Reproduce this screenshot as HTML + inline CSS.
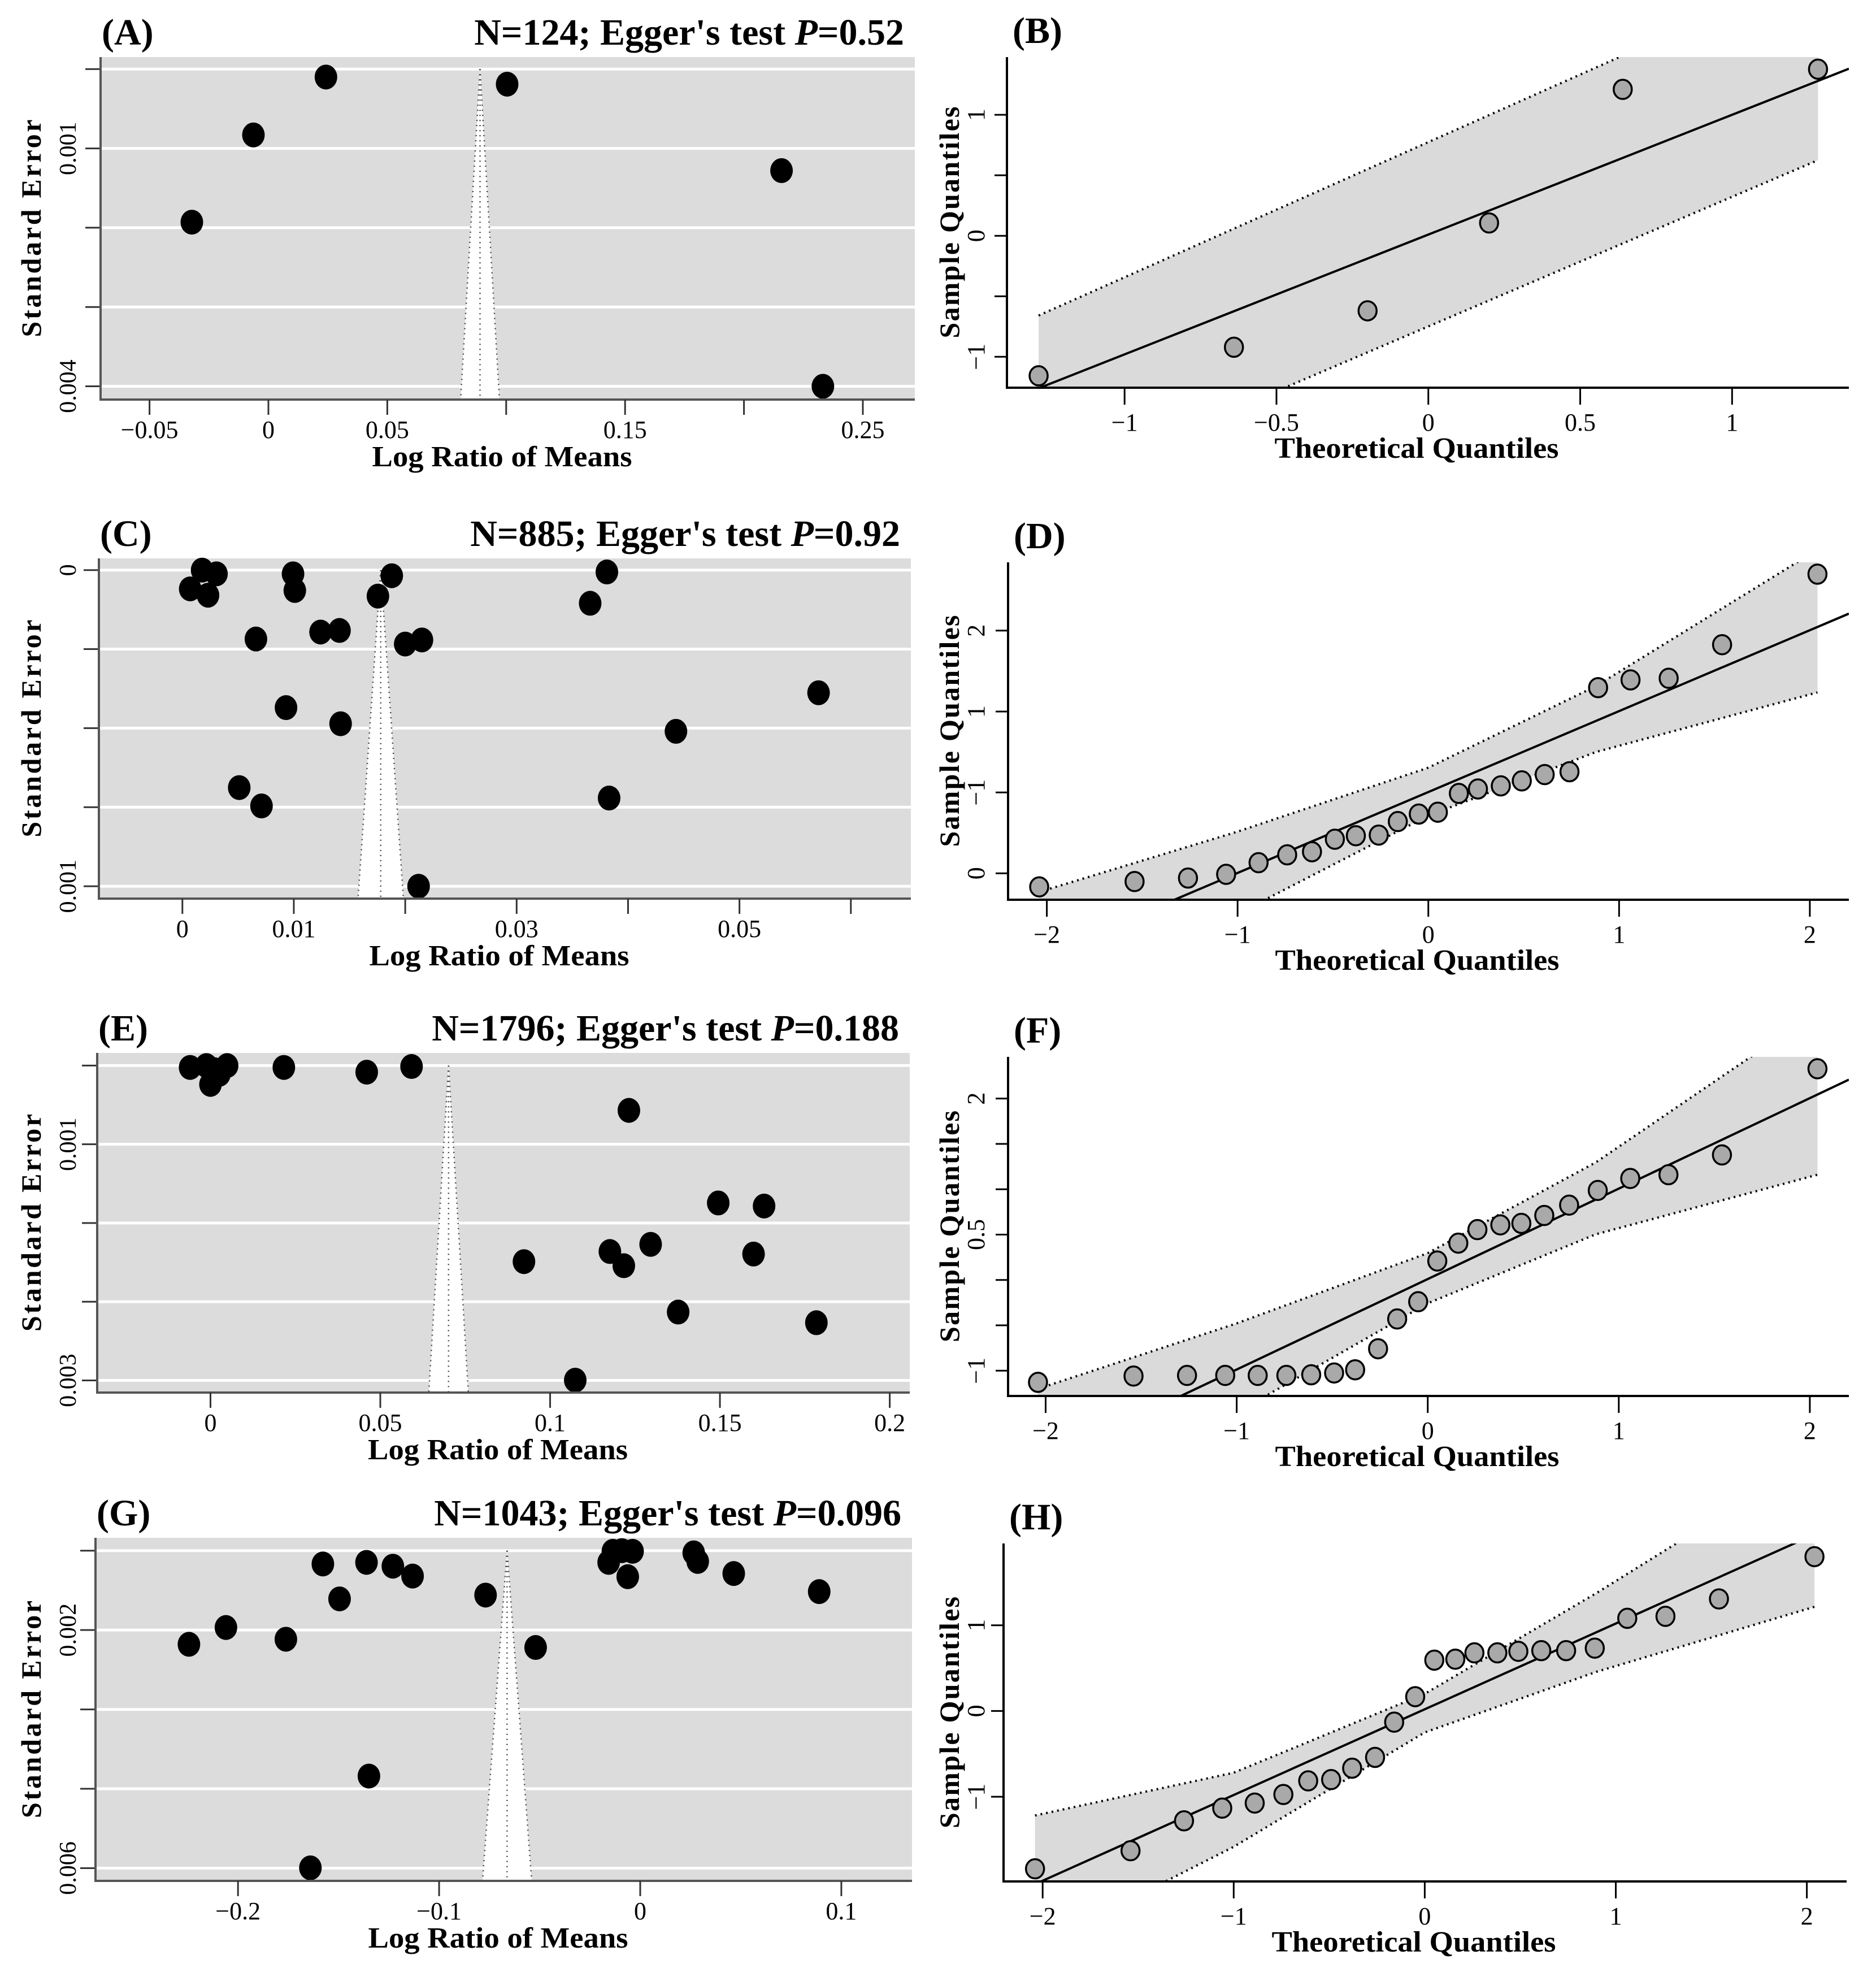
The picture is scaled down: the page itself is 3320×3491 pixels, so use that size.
<!DOCTYPE html>
<html><head><meta charset="utf-8"><style>
html,body{margin:0;padding:0;background:#fff;}
svg{display:block;font-family:"Liberation Serif",serif;}
</style></head><body>
<svg id="fig" xmlns="http://www.w3.org/2000/svg" width="3320" height="3491" viewBox="0 0 3320 3491"></svg>
<script>
// ---------- Funnel plot data (x = log ratio of means, y = standard error) ----------
const aLRM = [0.0242,-0.0063,-0.0322,0.1004,0.2158,0.2332];
const aSE  = [0.0001,0.00083,0.00193,0.00019,0.00128,0.004];
const cLRM = [0.00177,0.00306,0.0007,0.0023,0.00993,0.01009,0.01879,0.01755,0.0381,0.0366,0.0066,0.0124,0.0141,0.02,0.0215,0.0093,0.0142,0.0571,0.0443,0.0051,0.0071,0.0383,0.0212];
const cSE  = [0,0.0000119,0.0000595,0.0000794,0.0000119,0.0000645,0.0000179,0.0000823,0.000006,0.000105,0.000218,0.000196,0.000191,0.000234,0.000221,0.000435,0.000486,0.000388,0.00051,0.000688,0.000746,0.000721,0.001];
const eLRM = [-0.006,-0.0012,0.001,0.0049,0.0026,0.0,0.0216,0.046,0.0592,0.1232,0.1495,0.163,0.1296,0.1176,0.1217,0.0923,0.1599,0.1377,0.1784,0.1074];
const eSE  = [0.000017,0,0.000037,0,0.00008,0.000171,0.000017,0.00006,0.0000085,0.000407,0.001248,0.001276,0.001624,0.001689,0.001818,0.001781,0.001712,0.002239,0.002336,0.002858];
const gLRM = [-0.1578,-0.1361,-0.123,-0.1132,-0.1495,-0.0769,-0.206,-0.2244,-0.1762,-0.052,-0.1349,-0.164,-0.0136,-0.0091,-0.0038,-0.0157,-0.0062,0.0266,0.0286,0.0465,0.089];
const gSE  = [0.000252,0.000222,0.000294,0.00048,0.000912,0.00084,0.001452,0.00177,0.001674,0.00183,0.00426,0.005994,0.000012,0,0.000012,0.000222,0.000492,0.000042,0.000204,0.000432,0.000774];
const funnelCenters = [0.089,0.0178,0.0701,-0.0662];
const funnelTitles = ["N=124; Egger's test ","N=885; Egger's test ","N=1796; Egger's test ","N=1043; Egger's test "];
const funnelP = ["=0.52","=0.92","=0.188","=0.096"];
const aXTicks=[-0.05,0,0.05,0.1,0.15,0.2,0.25], aXLabels=["\u22120.05","0","0.05","","0.15","","0.25"];
const cXTicks=[0,0.01,0.02,0.03,0.04,0.05,0.06], cXLabels=["0","0.01","","0.03","","0.05",""];
const eXTicks=[0,0.05,0.1,0.15,0.2], eXLabels=["0","0.05","0.1","0.15","0.2"];
const gXTicks=[-0.2,-0.1,0,0.1], gXLabels=["\u22120.2","\u22120.1","0","0.1"];
const aYLabels=["","0.001","","","0.004"];
const cYLabels=["0","","","","0.001"];
const eYLabels=["","0.001","","","0.003"];
const gYLabels=["","0.002","","","0.006"];
const seMax=[0.004,0.001,0.00286,0.006];

// ---------- QQ plot data ----------
const bTheo=[-1.283,-0.64,-0.2,0.2,0.64,1.283];
const bSample=[-1.157,-0.921,-0.62,0.106,1.21,1.377];
const bBandX=[-1.283,1.283], bBandUp=[-0.659,2.207], bBandLo=[-2.123,0.625];
const theo24=[-2.04,-1.54,-1.26,-1.06,-0.89,-0.74,-0.61,-0.49,-0.38,-0.26,-0.16,-0.05,0.05,0.16,0.26,0.38,0.49,0.61,0.74,0.89,1.06,1.26,1.54,2.04];
const dSample=[-0.167,-0.101,-0.058,-0.012,0.132,0.229,0.267,0.422,0.465,0.473,0.64,0.733,0.756,0.988,1.043,1.081,1.143,1.221,1.256,2.295,2.391,2.411,2.826,3.698];
const dBandX=[-2.04,-1.005,0,0.879,2.04], dBandUp=[-0.23,0.512,1.306,2.314,4.0], dBandLo=[-1.97,-0.506,0.713,1.5,2.236];
const fSample=[-1.128,-1.059,-1.052,-1.052,-1.052,-1.052,-1.045,-1.025,-0.99,-0.758,-0.43,-0.24,0.209,0.406,0.555,0.607,0.624,0.711,0.825,0.987,1.119,1.16,1.378,2.328];
const fBandX=[-2.04,-1.005,0,0.879,2.04], fBandUp=[-1.2,-0.482,0.296,1.295,2.96], fBandLo=[-2.73,-1.467,-0.257,0.503,1.16];
const hSample=[-1.841,-1.63,-1.281,-1.133,-1.074,-0.974,-0.815,-0.8,-0.667,-0.541,-0.13,0.167,0.593,0.604,0.678,0.678,0.696,0.704,0.704,0.733,1.081,1.104,1.307,1.8];
const hBandX=[-2.04,-1.0,0,0.9,2.04], hBandUp=[-1.219,-0.72,0.2,1.377,2.956], hBandLo=[-2.76,-1.584,-0.25,0.458,1.215];
const qqIntercepts=[0.01,1.005,0.01,0.02], qqSlopes=[0.99,1.0,0.997,1.0];
const bXTicks=[-1,-0.5,0,0.5,1], bXLabels=["\u22121","\u22120.5","0","0.5","1"];
const dXTicks=[-2,-1,0,1,2], dXLabels=["\u22122","\u22121","0","1","2"];
const bYTicks=[-1,-0.5,0,0.5,1], bYLabels=["\u22121","","0","","1"];
const dYTicks=[0,1,2,3], dYLabels=["0","\u22121","1","2"];
const fYTicks=[-1,-0.5,0,0.5,1,1.5,2], fYLabels=["\u22121","","","0.5","","","2"];
const hYTicks=[-1,0,1], hYLabels=["\u22121","0","1"];

const NS="http://www.w3.org/2000/svg";
const svg=document.getElementById('fig');
function mk(parent,tag,attrs){const e=document.createElementNS(NS,tag);for(const k in attrs)e.setAttribute(k,attrs[k]);parent.appendChild(e);return e;}
function lin(v0,p0,v1,p1){return v=>p0+(v-v0)*(p1-p0)/(v1-v0);}
function inv(v0,p0,v1,p1){return p=>v0+(p-p0)*(v1-v0)/(p1-p0);}

const funnelLayouts=[
 {id:'a',letter:'(A)',box:{l:178,r:1619,t:101,b:707},xa:[-0.05,264.6],xb:[0.25,1527],y0:122.3,y1:683.5,xt:aXTicks,xl:aXLabels,yl:aYLabels,x:aLRM,y:aSE},
 {id:'c',letter:'(C)',box:{l:175,r:1612,t:988,b:1590},xa:[0,322.8],xb:[0.06,1505.8],y0:1008.7,y1:1568.1,xt:cXTicks,xl:cXLabels,yl:cYLabels,x:cLRM,y:cSE},
 {id:'e',letter:'(E)',box:{l:172,r:1610,t:1863,b:2464},xa:[0,372.5],xb:[0.2,1574.6],y0:1885.4,y1:2442.5,xt:eXTicks,xl:eXLabels,yl:eYLabels,x:eLRM,y:eSE},
 {id:'g',letter:'(G)',box:{l:169,r:1614,t:2721,b:3328},xa:[-0.2,421.2],xb:[0.1,1488.9],y0:2743.7,y1:3305.5,xt:gXTicks,xl:gXLabels,yl:gYLabels,x:gLRM,y:gSE}
];
const qqLayouts=[
 {id:'b',letter:'(B)',box:{l:1782,r:3272,t:101,b:686},xa:[-1,1990.2],xb:[1,3065.3],ya:[-1,631.3],yb:[1,203.1],xt:bXTicks,xl:bXLabels,yt:bYTicks,yl:bYLabels,x:bTheo,y:bSample,bx:bBandX,bu:bBandUp,bl:bBandLo},
 {id:'d',letter:'(D)',box:{l:1784,r:3272,t:995,b:1592},xa:[-2,1852.6],xb:[2,3202.9],ya:[0,1545.3],yb:[3,1115.8],xt:dXTicks,xl:dXLabels,yt:dYTicks,yl:dYLabels,x:theo24,y:dSample,bx:dBandX,bu:dBandUp,bl:dBandLo},
 {id:'f',letter:'(F)',box:{l:1784,r:3272,t:1870,b:2470},xa:[-2,1850.5],xb:[2,3202.9],ya:[-1,2425.3],yb:[2,1943.7],xt:dXTicks,xl:dXLabels,yt:fYTicks,yl:fYLabels,x:theo24,y:fSample,bx:fBandX,bu:fBandUp,bl:fBandLo},
 {id:'h',letter:'(H)',box:{l:1776,r:3268,t:2731,b:3329},xa:[-2,1845.2],xb:[2,3197.6],ya:[0,3027.4],yb:[1,2875.7],xt:dXTicks,xl:dXLabels,yt:hYTicks,yl:hYLabels,x:theo24,y:hSample,bx:hBandX,bu:hBandUp,bl:hBandLo}
];

funnelLayouts.forEach((P,i)=>{
 const B=P.box;
 const g=mk(svg,'g',{});
 
 
 const X=lin(P.xa[0],P.xa[1],P.xb[0],P.xb[1]);
 const Y=lin(0,P.y0,seMax[i],P.y1);
 const Yi=inv(0,P.y0,seMax[i],P.y1);
 const bg=mk(g,'rect',{x:B.l,y:B.t,width:B.r-B.l,height:B.b-B.t,fill:'#dcdcdc'});
 
 
 for(let k=0;k<5;k++){
  const se=seMax[i]*k/4, yy=Y(se);
  const gl=mk(g,'line',{x1:B.l,x2:B.r,y1:yy,y2:yy,stroke:'#fff','stroke-width':5});
  
  
  const tk=mk(g,'line',{x1:B.l-27,x2:B.l,y1:yy,y2:yy,stroke:'#333','stroke-width':3});
  
  
  if(P.yl[k]){
   const t=mk(g,'text',{x:0,y:0,transform:`translate(134,${yy}) rotate(-90)`,'text-anchor':'middle','font-size':42});
   t.textContent=P.yl[k];
   
   
  }
 }
 const c=funnelCenters[i], seB=Yi(B.b), half=1.96*seB;
 const apexY=Y(0);
 const fun=mk(g,'polygon',{points:`${X(c)},${apexY} ${X(c-half)},${B.b} ${X(c+half)},${B.b}`,fill:'#fff'});
 
 
 [[c,c],[c,c-half],[c,c+half]].forEach(([a,b2])=>{
  const l=mk(g,'line',{x1:X(a),y1:apexY,x2:X(b2),y2:B.b,stroke:'#444','stroke-width':2.5,'stroke-dasharray':'2 7'});
  
  
 });
 P.x.forEach((v,j)=>{
  const p=mk(g,'ellipse',{cx:X(v),cy:Y(P.y[j]),rx:20,ry:22,fill:'#000'});
  
  
 });
 const ax=mk(g,'path',{d:`M${B.l},${B.t} V${B.b} H${B.r}`,fill:'none',stroke:'#555','stroke-width':4});
 
 
 P.xt.forEach((v,k)=>{
  const xx=X(v);
  const tk=mk(g,'line',{x1:xx,x2:xx,y1:B.b,y2:B.b+27,stroke:'#333','stroke-width':3});
  
  
  if(P.xl[k]){
   const t=mk(g,'text',{x:xx,y:B.b+68,'text-anchor':'middle','font-size':44});
   t.textContent=P.xl[k];
   
   
  }
 });
 const xt=mk(g,'text',{x:(B.l+B.r)/2-10,y:B.b+118,'text-anchor':'middle','font-size':52,'font-weight':'bold',textLength:460,lengthAdjust:'spacingAndGlyphs'});
 xt.textContent='Log Ratio of Means';
 
 
 const yt=mk(g,'text',{x:0,y:0,transform:`translate(72,${(B.t+B.b)/2}) rotate(-90)`,'text-anchor':'middle','font-size':50,'font-weight':'bold',textLength:385,lengthAdjust:'spacing'});
 yt.textContent='Standard Error';
 
 
 const lt=mk(g,'text',{x:B.l+2,y:B.t-22,'font-size':66,'font-weight':'bold'});
 lt.textContent=P.letter;
 
 
 const tt=mk(g,'text',{x:B.r-19,y:B.t-22,'text-anchor':'end','font-size':66,'font-weight':'bold'});
 
 
 const s1=mk(tt,'tspan',{}); s1.textContent=funnelTitles[i];
 const s2=mk(tt,'tspan',{'font-style':'italic'}); s2.textContent='P';
 const s3=mk(tt,'tspan',{}); s3.textContent=funnelP[i];
});

qqLayouts.forEach((P,i)=>{
 const B=P.box;
 const g=mk(svg,'g',{});
 
 
 const X=lin(P.xa[0],P.xa[1],P.xb[0],P.xb[1]);
 const Y=lin(P.ya[0],P.ya[1],P.yb[0],P.yb[1]);
 const Xi=inv(P.xa[0],P.xa[1],P.xb[0],P.xb[1]);
 const cp=mk(g,'clipPath',{id:'clip'+P.id});
 mk(cp,'rect',{x:B.l,y:B.t,width:B.r-B.l,height:B.b-B.t});
 const up=P.bx.map((v,k)=>`${X(v)},${Y(P.bu[k])}`);
 const lo=P.bx.map((v,k)=>`${X(v)},${Y(P.bl[k])}`).reverse();
 const band=mk(g,'polygon',{points:up.concat(lo).join(' '),fill:'#dadada','clip-path':`url(#clip${P.id})`});
 
 
 [P.bu,P.bl].forEach(arr=>{
  const pl=mk(g,'polyline',{points:P.bx.map((v,k)=>`${X(v)},${Y(arr[k])}`).join(' '),fill:'none',stroke:'#000','stroke-width':4,'stroke-dasharray':'3 7','clip-path':`url(#clip${P.id})`});
  
  
 });
 const x0=Xi(B.l), x1=Xi(B.r);
 const ln=mk(g,'line',{x1:X(x0),y1:Y(qqIntercepts[i]+qqSlopes[i]*x0),x2:X(x1),y2:Y(qqIntercepts[i]+qqSlopes[i]*x1),stroke:'#000','stroke-width':4,'clip-path':`url(#clip${P.id})`});
 
 
 P.x.forEach((v,j)=>{
  const p=mk(g,'ellipse',{cx:X(v),cy:Y(P.y[j]),rx:16,ry:17,fill:'#a9a9a9',stroke:'#000','stroke-width':3.5});
  
  
 });
 const ax=mk(g,'path',{d:`M${B.l},${B.t} V${B.b} H${B.r}`,fill:'none',stroke:'#000','stroke-width':4});
 
 
 P.xt.forEach((v,k)=>{
  const xx=X(v);
  const tk=mk(g,'line',{x1:xx,x2:xx,y1:B.b,y2:B.b+30,stroke:'#000','stroke-width':3});
  
  
  const t=mk(g,'text',{x:xx,y:B.b+76,'text-anchor':'middle','font-size':44});
  t.textContent=P.xl[k];
  
  
 });
 P.yt.forEach((v,k)=>{
  const yy=Y(v);
  const tk=mk(g,'line',{x1:B.l-22,x2:B.l,y1:yy,y2:yy,stroke:'#000','stroke-width':3});
  
  
  if(P.yl[k]){
   const t=mk(g,'text',{x:0,y:0,transform:`translate(1742,${yy}) rotate(-90)`,'text-anchor':'middle','font-size':44});
   t.textContent=P.yl[k];
   
   
  }
 });
 const xt=mk(g,'text',{x:(B.l+B.r)/2-20,y:B.b+124,'text-anchor':'middle','font-size':52,'font-weight':'bold',textLength:503,lengthAdjust:'spacingAndGlyphs'});
 xt.textContent='Theoretical Quantiles';
 
 
 const yt=mk(g,'text',{x:0,y:0,transform:`translate(1697,${(B.t+B.b)/2}) rotate(-90)`,'text-anchor':'middle','font-size':50,'font-weight':'bold',textLength:410,lengthAdjust:'spacing'});
 yt.textContent='Sample Quantiles';
 
 
 const lt=mk(g,'text',{x:B.l+10,y:B.t-25,'font-size':66,'font-weight':'bold'});
 lt.textContent=P.letter;
 
 
});
</script>
</body></html>
